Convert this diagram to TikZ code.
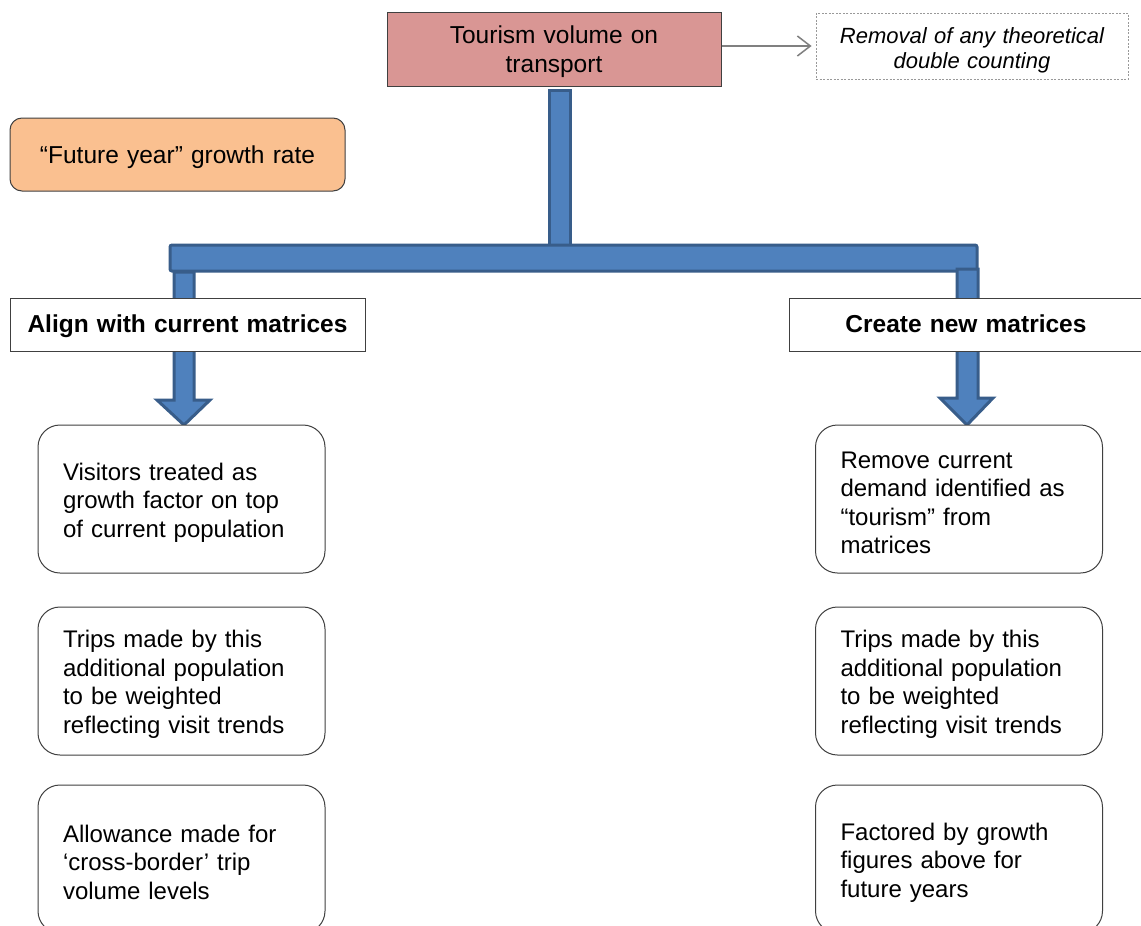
\documentclass[tikz,border=0pt]{standalone}
\usepackage{fontspec}
\setmainfont{Liberation Sans}
\usetikzlibrary{arrows.meta}
\definecolor{pipefill}{HTML}{4F81BD}
\definecolor{pipeline}{HTML}{385D8A}
\definecolor{topfill}{HTML}{D99694}
\definecolor{orangefill}{HTML}{FAC090}
\definecolor{edge}{HTML}{404040}
\begin{document}
\begin{tikzpicture}[x=1pt,y=-1pt,
  big/.style={font=\fontsize{24.5}{28.5}\selectfont},
  txt/.style={font=\fontsize{24}{28.5}\selectfont},
  down/.style={execute at begin node={\rule{0pt}{#1}}},
  topbox/.style={big,draw=edge,line width=1pt,fill=topfill,minimum width=334pt,text width=334pt,minimum height=74pt,align=center,inner sep=0pt,down=23pt},
  notebox/.style={draw=black!40,line width=0.8pt,dash pattern=on 2pt off 1.5pt,fill=white,minimum width=312pt,text width=312pt,minimum height=66pt,align=center,inner sep=0pt,font=\fontsize{22}{25.5}\selectfont\itshape,down=25pt},
  growbox/.style={big,draw=edge,line width=1pt,fill=orangefill,rounded corners=12pt,minimum width=335pt,text width=335pt,minimum height=73pt,align=center,inner sep=0pt,down=24pt},
  headbox/.style={font=\fontsize{24.5}{28.5}\selectfont\bfseries,draw=edge,line width=1pt,fill=white,minimum height=53pt,align=center,inner sep=0pt,execute at begin node={\rule[-6pt]{0pt}{27pt}}},
  stepbox/.style={txt,draw=edge,line width=1pt,fill=white,rounded corners=22pt,text width=237pt,inner xsep=25pt,inner ysep=0pt,minimum height=148pt,align=left,down=24pt},
  pipe/.style={fill=pipefill,draw=pipeline,line width=3pt,line join=miter},
  grayarrow/.style={draw=black!50,line width=1.5pt,-{Straight Barb[length=13pt,width=20pt,line width=1.5pt]}}]
\useasboundingbox (0,0) rectangle (1141,926);
\clip (0,0) rectangle (1141,926);
\fill[white] (0,0) rectangle (1141,926);

% pipes
\draw[pipe] (549,90) rectangle (570,246);
\draw[pipe,rounded corners=2pt] (170,245) rectangle (977,271);
\draw[pipe] (174,272) -- (194,272) -- (194,400) -- (210,400) -- (184,425) -- (157,400) -- (174,400) -- cycle;
\draw[pipe] (957,269) -- (978,269) -- (978,398) -- (993,398) -- (967,425) -- (940,398) -- (957,398) -- cycle;

% top row
\node[topbox] (top) at (554,49) {Tourism volume on\\transport};
\node[notebox] (note) at (972,46) {Removal of any theoretical\\double counting};
\draw[grayarrow] (top.east |- note.west) -- ([xshift=-4pt]note.west);
\node[growbox] (grow) at (177.5,154.5) {“Future year” growth rate};

% headings
\node[headbox,minimum width=355pt,text width=355pt] (align) at (187.5,324.5) {Align with current matrices};
\node[headbox,minimum width=354pt,text width=354pt] (create) at (966,324.5) {Create new matrices};

% left column
\node[stepbox] (l1) at (181.5,499) {Visitors treated as\\growth factor on top\\of current population};
\node[stepbox] (l2) at (181.5,681) {Trips made by this\\additional population\\to be weighted\\reflecting visit trends};
\node[stepbox] (l3) at (181.5,859) {Allowance made for\\‘cross-border’ trip\\volume levels};

% right column
\node[stepbox] (r1) at (959,499) {Remove current\\demand identified as\\“tourism” from\\matrices};
\node[stepbox] (r2) at (959,681) {Trips made by this\\additional population\\to be weighted\\reflecting visit trends};
\node[stepbox] (r3) at (959,859) {Factored by growth\\figures above for\\future years};
\end{tikzpicture}
\end{document}
